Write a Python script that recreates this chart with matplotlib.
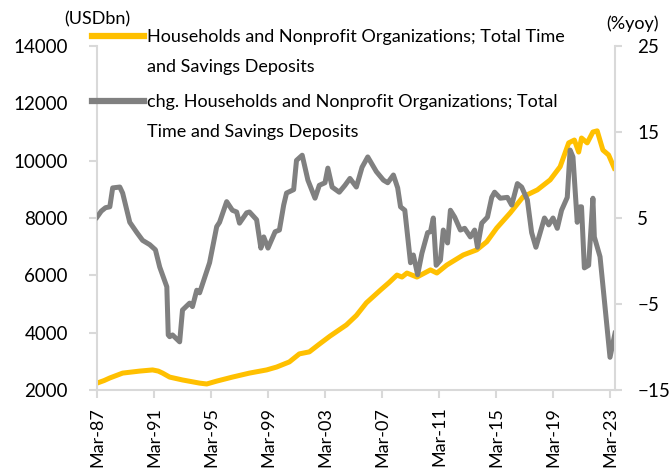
import matplotlib
matplotlib.use("Agg")
import matplotlib.pyplot as plt
from matplotlib.lines import Line2D

plt.rcParams['font.family'] = ['Lato', 'DejaVu Sans']

# x values are years, Mar-YY tick sits on YYYY.0
dep_years = [1987.0, 1987.5, 1987.9, 1988.8, 1990.0, 1990.9, 1991.3, 1991.6, 1992.1, 1993.0,
             1994.2, 1994.7, 1995.4, 1996.5, 1997.7, 1998.9, 1999.6, 2000.5, 2001.2, 2001.9,
             2002.6, 2003.35, 2004.5, 2005.2, 2005.9, 2006.9, 2007.5, 2008.05, 2008.4, 2008.75,
             2009.45, 2010.4, 2010.85, 2011.55, 2012.7, 2013.65, 2014.35, 2015.05, 2016.0, 2016.9,
             2017.9, 2018.8, 2019.5, 2020.1, 2020.5, 2020.8, 2021.0, 2021.4, 2021.8, 2022.1,
             2022.5, 2022.9, 2023.3]
dep_usdbn = [2240, 2330, 2420, 2590, 2660, 2700, 2660, 2590, 2450, 2350,
             2240, 2210, 2310, 2450, 2590, 2700, 2800, 2980, 3260, 3330,
             3600, 3880, 4270, 4600, 5040, 5490, 5750, 6010, 5940, 6080,
             5940, 6190, 6080, 6360, 6710, 6890, 7170, 7650, 8180, 8740,
             8980, 9330, 9790, 10620, 10720, 10300, 10790, 10620, 11000, 11040,
             10370, 10200, 9740]

chg_years = [1987.0, 1987.3, 1987.6, 1987.9, 1988.1, 1988.6, 1988.8, 1989.3, 1989.8, 1990.2,
             1990.7, 1991.1, 1991.4, 1991.9, 1992.0, 1992.1, 1992.3, 1992.8, 1993.0, 1993.5,
             1993.7, 1994.0, 1994.2, 1994.9, 1995.4, 1995.6, 1996.1, 1996.5, 1996.8, 1997.0,
             1997.5, 1997.7, 1998.2, 1998.5, 1998.7, 1999.0, 1999.5, 1999.8, 2000.1, 2000.3,
             2000.8, 2001.0, 2001.4, 2001.8, 2002.3, 2002.6, 2003.0, 2003.2, 2003.5, 2004.0,
             2004.4, 2004.75, 2005.2, 2005.6, 2006.0, 2006.6, 2007.1, 2007.4, 2007.8, 2008.1,
             2008.3, 2008.6, 2009.0, 2009.2, 2009.5, 2009.8, 2010.2, 2010.4, 2010.6, 2010.8,
             2011.1, 2011.3, 2011.6, 2011.8, 2012.1, 2012.5, 2012.8, 2013.2, 2013.5, 2013.7,
             2014.0, 2014.4, 2014.7, 2014.9, 2015.3, 2015.8, 2016.1, 2016.5, 2016.8, 2017.2,
             2017.5, 2017.8, 2018.1, 2018.4, 2018.7, 2019.0, 2019.3, 2019.6, 2020.0, 2020.2,
             2020.4, 2020.7, 2020.9, 2021.0, 2021.2, 2021.5, 2021.8, 2021.9, 2022.3, 2022.6,
             2023.0, 2023.35]
chg_pct = [5.1, 5.8, 6.2, 6.3, 8.5, 8.6, 7.9, 4.5, 3.3, 2.4,
           1.9, 1.3, -0.7, -3.0, -8.6, -8.8, -8.6, -9.4, -5.7, -4.9,
           -5.3, -3.4, -3.7, -0.2, 4.0, 4.5, 6.9, 5.9, 5.7, 4.4,
           5.6, 5.7, 4.8, 1.5, 2.8, 1.5, 3.4, 3.6, 6.5, 7.9,
           8.3, 11.7, 12.3, 9.4, 7.3, 8.8, 9.1, 10.8, 8.6, 8.0,
           8.8, 9.6, 8.6, 10.9, 12.1, 10.4, 9.4, 9.1, 10.0, 8.5,
           6.3, 5.9, -0.2, 0.7, -1.6, 0.9, 3.3, 3.4, 5.0, -0.5,
           0.1, 3.6, 2.1, 5.9, 5.1, 3.6, 3.8, 2.8, 3.6, 1.6,
           4.4, 5.1, 7.4, 8.0, 7.3, 7.4, 6.5, 9.0, 8.6, 7.1,
           3.3, 1.6, 3.3, 5.0, 4.2, 5.0, 3.8, 5.9, 7.4, 12.9,
           12.1, 4.5, 6.3, 6.3, -0.8, -0.5, 7.3, 2.8, 0.5, -4.5,
           -11.2, -8.4]

tick_years = [1987, 1991, 1995, 1999, 2003, 2007, 2011, 2015, 2019, 2023]
tick_labels = ["Mar-87", "Mar-91", "Mar-95", "Mar-99", "Mar-03",
               "Mar-07", "Mar-11", "Mar-15", "Mar-19", "Mar-23"]

dep_label = "Households and Nonprofit Organizations; Total Time\nand Savings Deposits"
chg_label = "chg. Households and Nonprofit Organizations; Total\nTime and Savings Deposits"

yellow = '#FFC000'
grey = '#808080'
spine_c = '#d9d9d9'
fs = 13.5
lfs = 13

fig = plt.figure(figsize=(6.72, 4.68), dpi=100)
ax = fig.add_axes([97 / 672, 1 - 390 / 468, (615 - 97) / 672, (390 - 46) / 468])
ax2 = ax.twinx()

ax.plot(dep_years, dep_usdbn, color=yellow, lw=3.6)
ax2.plot(chg_years, chg_pct, color=grey, lw=3.6)

ax.set_xlim(1987, 2023.35)
ax.set_ylim(2000, 14000)
ax.set_yticks(range(2000, 14001, 2000))
ax2.set_ylim(-15, 25)
ax2.set_yticks([-15, -5, 5, 15, 25])
ax.set_xticks(tick_years, tick_labels, rotation=90)

for a in (ax, ax2):
    for s in a.spines.values():
        s.set_color(spine_c)
        s.set_linewidth(1.5)
    a.spines['top'].set_visible(False)
ax.spines['right'].set_visible(False)
ax2.spines['left'].set_visible(False)
ax2.spines['bottom'].set_visible(False)

ax.tick_params(axis='y', length=6, width=1.5, color=spine_c, pad=15, labelsize=fs)
ax.tick_params(axis='x', length=6, width=1.5, color=spine_c, pad=6, labelsize=13)
ax2.tick_params(axis='y', length=5, width=1.5, color=spine_c, pad=11, labelsize=fs)

fig.text(64 / 672, 1 - 19 / 468, "(USDbn)", fontsize=lfs, va='center', ha='left')
fig.text(606 / 672, 1 - 24 / 468, "(%yoy)", fontsize=lfs, va='center', ha='left')

# legend drawn by hand so the marker sits on the first text line
for y, col, lab in [(36, yellow, dep_label), (101, grey, chg_label)]:
    yf = 1 - y / 468
    fig.add_artist(Line2D([92 / 672, 144 / 672], [yf, yf], transform=fig.transFigure,
                          color=col, lw=4.5))
    fig.text(147 / 672, 1 - (y - 7) / 468, lab, fontsize=lfs, va='top', ha='left',
             linespacing=2.1)

fig.savefig("out.png", dpi=100)
